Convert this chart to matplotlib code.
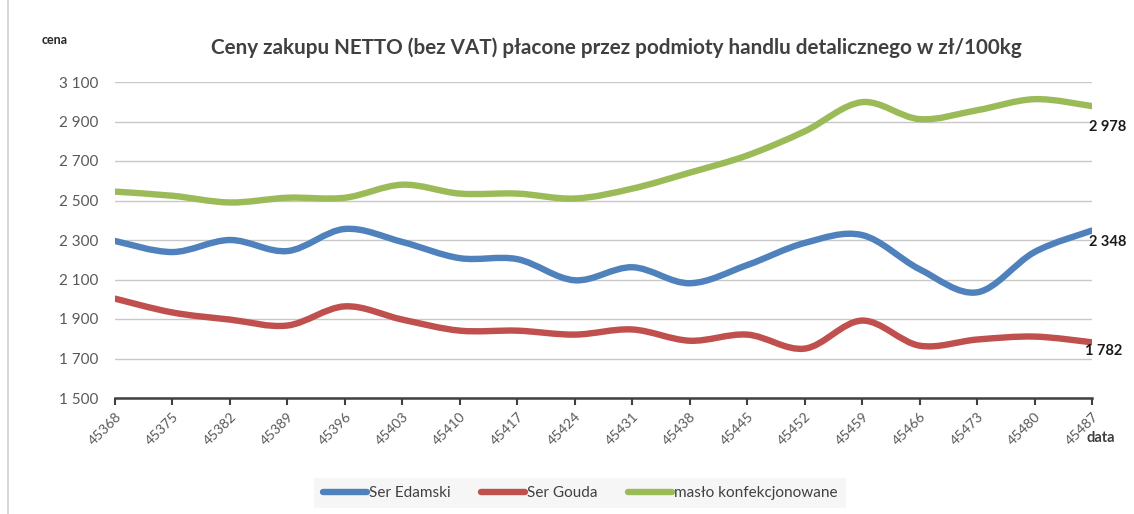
import matplotlib
matplotlib.use('Agg')
import matplotlib.pyplot as plt
from matplotlib.path import Path
import matplotlib.patches as mpatches
from matplotlib.lines import Line2D
import numpy as np

plt.rcParams['font.family'] = ['Lato', 'DejaVu Sans']

# ---------- data ----------
dates = [45368, 45375, 45382, 45389, 45396, 45403, 45410, 45417, 45424,
         45431, 45438, 45445, 45452, 45459, 45466, 45473, 45480, 45487]
edamski = [2295, 2239, 2300, 2244, 2356, 2290, 2208, 2203, 2096,
           2162, 2081, 2173, 2285, 2325, 2152, 2035, 2239, 2348]
gouda = [2003, 1933, 1897, 1867, 1964, 1897, 1841, 1841, 1821,
         1847, 1790, 1821, 1750, 1892, 1765, 1796, 1811, 1782]
maslo = [2545, 2524, 2490, 2514, 2514, 2580, 2535, 2535, 2510,
         2560, 2641, 2728, 2850, 2998, 2912, 2957, 3013, 2978]
names = ['Ser Edamski', 'Ser Gouda', 'masło konfekcjonowane']
colors = ['#4f81bd', '#c0504d', '#9bbb59']
yticks = [1500, 1700, 1900, 2100, 2300, 2500, 2700, 2900, 3100]


def fmt(v):
    return f'{v:,}'.replace(',', ' ')


def smooth_path(xs, ys, t=1/6):
    # Excel-like smoothed line: cubic bezier through every point
    x = np.asarray(xs, float)
    y = np.asarray(ys, float)
    n = len(x)
    verts = [(x[0], y[0])]
    codes = [Path.MOVETO]
    for i in range(n - 1):
        p0 = i - 1 if i > 0 else i
        p3 = i + 2 if i + 2 < n else i + 1
        c1 = (x[i] + (x[i + 1] - x[p0]) * t, y[i] + (y[i + 1] - y[p0]) * t)
        c2 = (x[i + 1] - (x[p3] - x[i]) * t, y[i + 1] - (y[p3] - y[i]) * t)
        verts += [c1, c2, (x[i + 1], y[i + 1])]
        codes += [Path.CURVE4] * 3
    return Path(verts, codes)


# ---------- figure ----------
fig = plt.figure(figsize=(11.34, 5.14), dpi=100)
ax = fig.add_axes([115/1134, 1 - 398/514, (1092 - 115)/1134, (398 - 82)/514])

x_idx = np.arange(len(dates))
for series, c, nm in zip([edamski, gouda, maslo], colors, names):
    patch = mpatches.PathPatch(smooth_path(x_idx, series), fill=False,
                               edgecolor=c, lw=4.6, capstyle='round',
                               joinstyle='round', zorder=3)
    ax.add_patch(patch)

ax.set_xlim(0, len(dates) - 1)
ax.set_ylim(1500, 3100)
ax.set_yticks(yticks)
ax.set_yticklabels([fmt(v) for v in yticks])
ax.set_xticks(x_idx)
ax.set_xticklabels([str(d) for d in dates], rotation=45, ha='right',
                   rotation_mode='anchor')

ax.grid(axis='y', color='#c8c8c8', lw=1.0)
ax.set_axisbelow(True)
for s in ['top', 'right', 'left']:
    ax.spines[s].set_visible(False)
ax.spines['bottom'].set_color('#404040')
ax.spines['bottom'].set_linewidth(1.8)
ax.tick_params(axis='y', length=0, pad=12, labelsize=11, labelcolor='#595959')
ax.tick_params(axis='x', length=5, width=1.5, color='#404040', pad=4,
               labelsize=10, labelcolor='#595959')

# end labels
offsets = [(-2, -8), (-5, -6), (-2, -15)]
for series, off in zip([edamski, gouda, maslo], offsets):
    ax.annotate(fmt(series[-1]), (x_idx[-1], series[-1]), xytext=off,
                textcoords='offset points', ha='left', va='center',
                fontsize=10.5, fontweight='bold', color='#1a1a1a')

fig.text(616/1134, 1 - 48/514, 'Ceny zakupu NETTO (bez VAT) płacone przez podmioty handlu detalicznego w zł/100kg',
         ha='center', va='center', fontsize=14.9, fontweight='bold', color='#404040')
fig.text(55/1134, 1 - 40/514, 'cena', ha='center', va='center', fontsize=9,
         fontweight='bold', color='#262626')
fig.text(1101/1134, 1 - 438/514, 'data', ha='center', va='center', fontsize=10.5,
         fontweight='bold', color='#404040')

# left border
fig.add_artist(Line2D([8/1134, 8/1134], [0, 1], color='#d0d0d0', lw=1.2))

handles = [Line2D([], [], color=c, lw=4.6, solid_capstyle='round') for c in colors]
leg = fig.legend(handles, names, loc='center', bbox_to_anchor=(580/1134, 1 - 493/514),
                 ncol=3, fontsize=11, frameon=True, handlelength=2.9,
                 handletextpad=0.1, columnspacing=2.0, borderpad=0.55, fancybox=False)
leg.get_frame().set_facecolor('#f4f4f4')
leg.get_frame().set_edgecolor('none')
for t in leg.get_texts():
    t.set_color('#404040')

fig.savefig('out.png', dpi=100, facecolor='white')
